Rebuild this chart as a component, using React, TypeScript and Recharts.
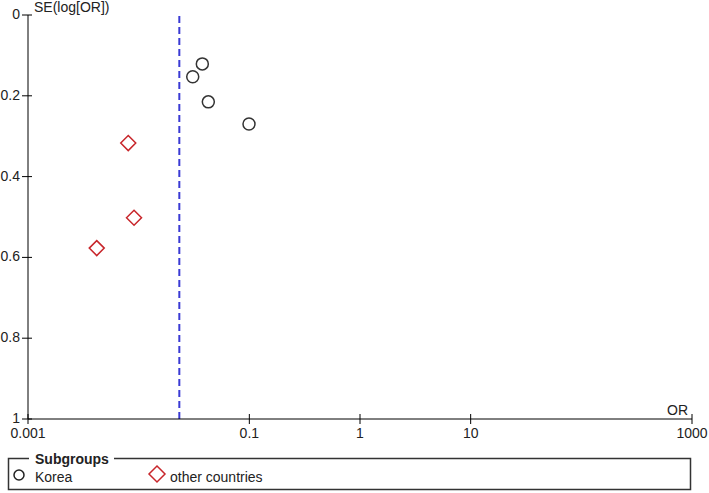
import React from "react"
import {
  ScatterChart,
  Scatter,
  XAxis,
  YAxis,
  ReferenceLine,
  Label,
} from "recharts"

const koreaOR = [0.0376, 0.0308, 0.0426, 0.0993]
const koreaSE = [0.121, 0.153, 0.215, 0.27]
const otherOR = [0.00805, 0.00908, 0.00418]
const otherSE = [0.317, 0.502, 0.577]
const pooledOR = 0.0233
const xTicks = [0.001, 0.1, 1, 10, 1000]
const yTicks = [0, 0.2, 0.4, 0.6, 0.8, 1]

const korea = koreaOR.map((or, i) => ({ or, se: koreaSE[i] }))
const other = otherOR.map((or, i) => ({ or, se: otherSE[i] }))

const FONT = "'Liberation Sans', Arial, sans-serif"
const TXT = "#222"
const RED = "#c8262b"

const Circle = (p: any) => (
  <circle cx={p.cx} cy={p.cy} r={6} fill="none" stroke="#333" strokeWidth={1.5} />
)

const Diamond = (p: any) => {
  const s = 7.5
  return (
    <polygon
      points={`${p.cx},${p.cy - s} ${p.cx + s},${p.cy} ${p.cx},${p.cy + s} ${p.cx - s},${p.cy}`}
      fill="none"
      stroke={RED}
      strokeWidth={1.5}
    />
  )
}

const YTick = (p: any) => (
  <g>
    <line x1={p.x - 6} x2={p.x + 4} y1={p.y} y2={p.y} stroke="#000" />
    <text x={p.x - 8} y={p.y + 4} textAnchor="end" fontSize={14} fill={TXT} fontFamily={FONT}>
      {p.payload.value}
    </text>
  </g>
)

const XTick = (p: any) => (
  <g>
    <line x1={p.x} x2={p.x} y1={p.y - 5} y2={p.y + 5} stroke="#000" />
    <text x={p.x} y={p.y + 19} textAnchor="middle" fontSize={14} fill={TXT} fontFamily={FONT}>
      {p.payload.value}
    </text>
  </g>
)

export default function App() {
  return (
    <div style={{ position: "absolute", left: 0, top: 0, width: 709, height: 493, background: "#fff" }}>
      <ScatterChart width={709} height={493} margin={{ top: 15, right: 17, bottom: 34, left: 0 }}>
        <XAxis
          type="number"
          dataKey="or"
          scale="log"
          domain={[0.001, 1000]}
          ticks={xTicks}
          allowDataOverflow
          height={40}
          stroke="#000"
          tickSize={0}
          tickMargin={0}
          tick={<XTick />}
        >
          <Label
            content={(lp: any) => (
              <text
                x={lp.viewBox.x + lp.viewBox.width - 4}
                y={lp.viewBox.y - 4}
                textAnchor="end"
                fontSize={14}
                fill={TXT}
                fontFamily={FONT}
              >
                OR
              </text>
            )}
          />
        </XAxis>
        <YAxis
          type="number"
          dataKey="se"
          reversed
          domain={[0, 1]}
          ticks={yTicks}
          width={28}
          stroke="#000"
          tickSize={0}
          tickMargin={0}
          tick={<YTick />}
        >
          <Label
            content={(lp: any) => (
              <text
                x={lp.viewBox.x + lp.viewBox.width + 6}
                y={lp.viewBox.y - 3}
                textAnchor="start"
                fontSize={14}
                fill={TXT}
                fontFamily={FONT}
              >
                SE(log[OR])
              </text>
            )}
          />
        </YAxis>
        <ReferenceLine x={pooledOR} stroke="#3a3ad4" strokeWidth={2} strokeDasharray="7 4" />
        <Scatter name="Korea" data={korea} shape={Circle} isAnimationActive={false} />
        <Scatter name="other countries" data={other} shape={Diamond} isAnimationActive={false} />
      </ScatterChart>
      {/* subgroup legend box */}
      <svg
        width={709}
        height={43}
        style={{ position: "absolute", left: 0, top: 450 }}
        fontFamily={FONT}
        fontSize={14}
      >
        <path d="M29 8.5 H8.5 V39.5 H690.5 V8.5 H114" fill="none" stroke="#333" strokeWidth={1.5} />
        <text x={35} y={14} fontWeight="bold" fill={TXT}>
          Subgroups
        </text>
        <circle cx={19} cy={25} r={5} fill="none" stroke="#222" strokeWidth={1.5} />
        <text x={35} y={32} fill={TXT}>
          Korea
        </text>
        <polygon points="157,16 165,24 157,32 149,24" fill="none" stroke={RED} strokeWidth={1.5} />
        <text x={170} y={32} fill={TXT}>
          other countries
        </text>
      </svg>
    </div>
  )
}
